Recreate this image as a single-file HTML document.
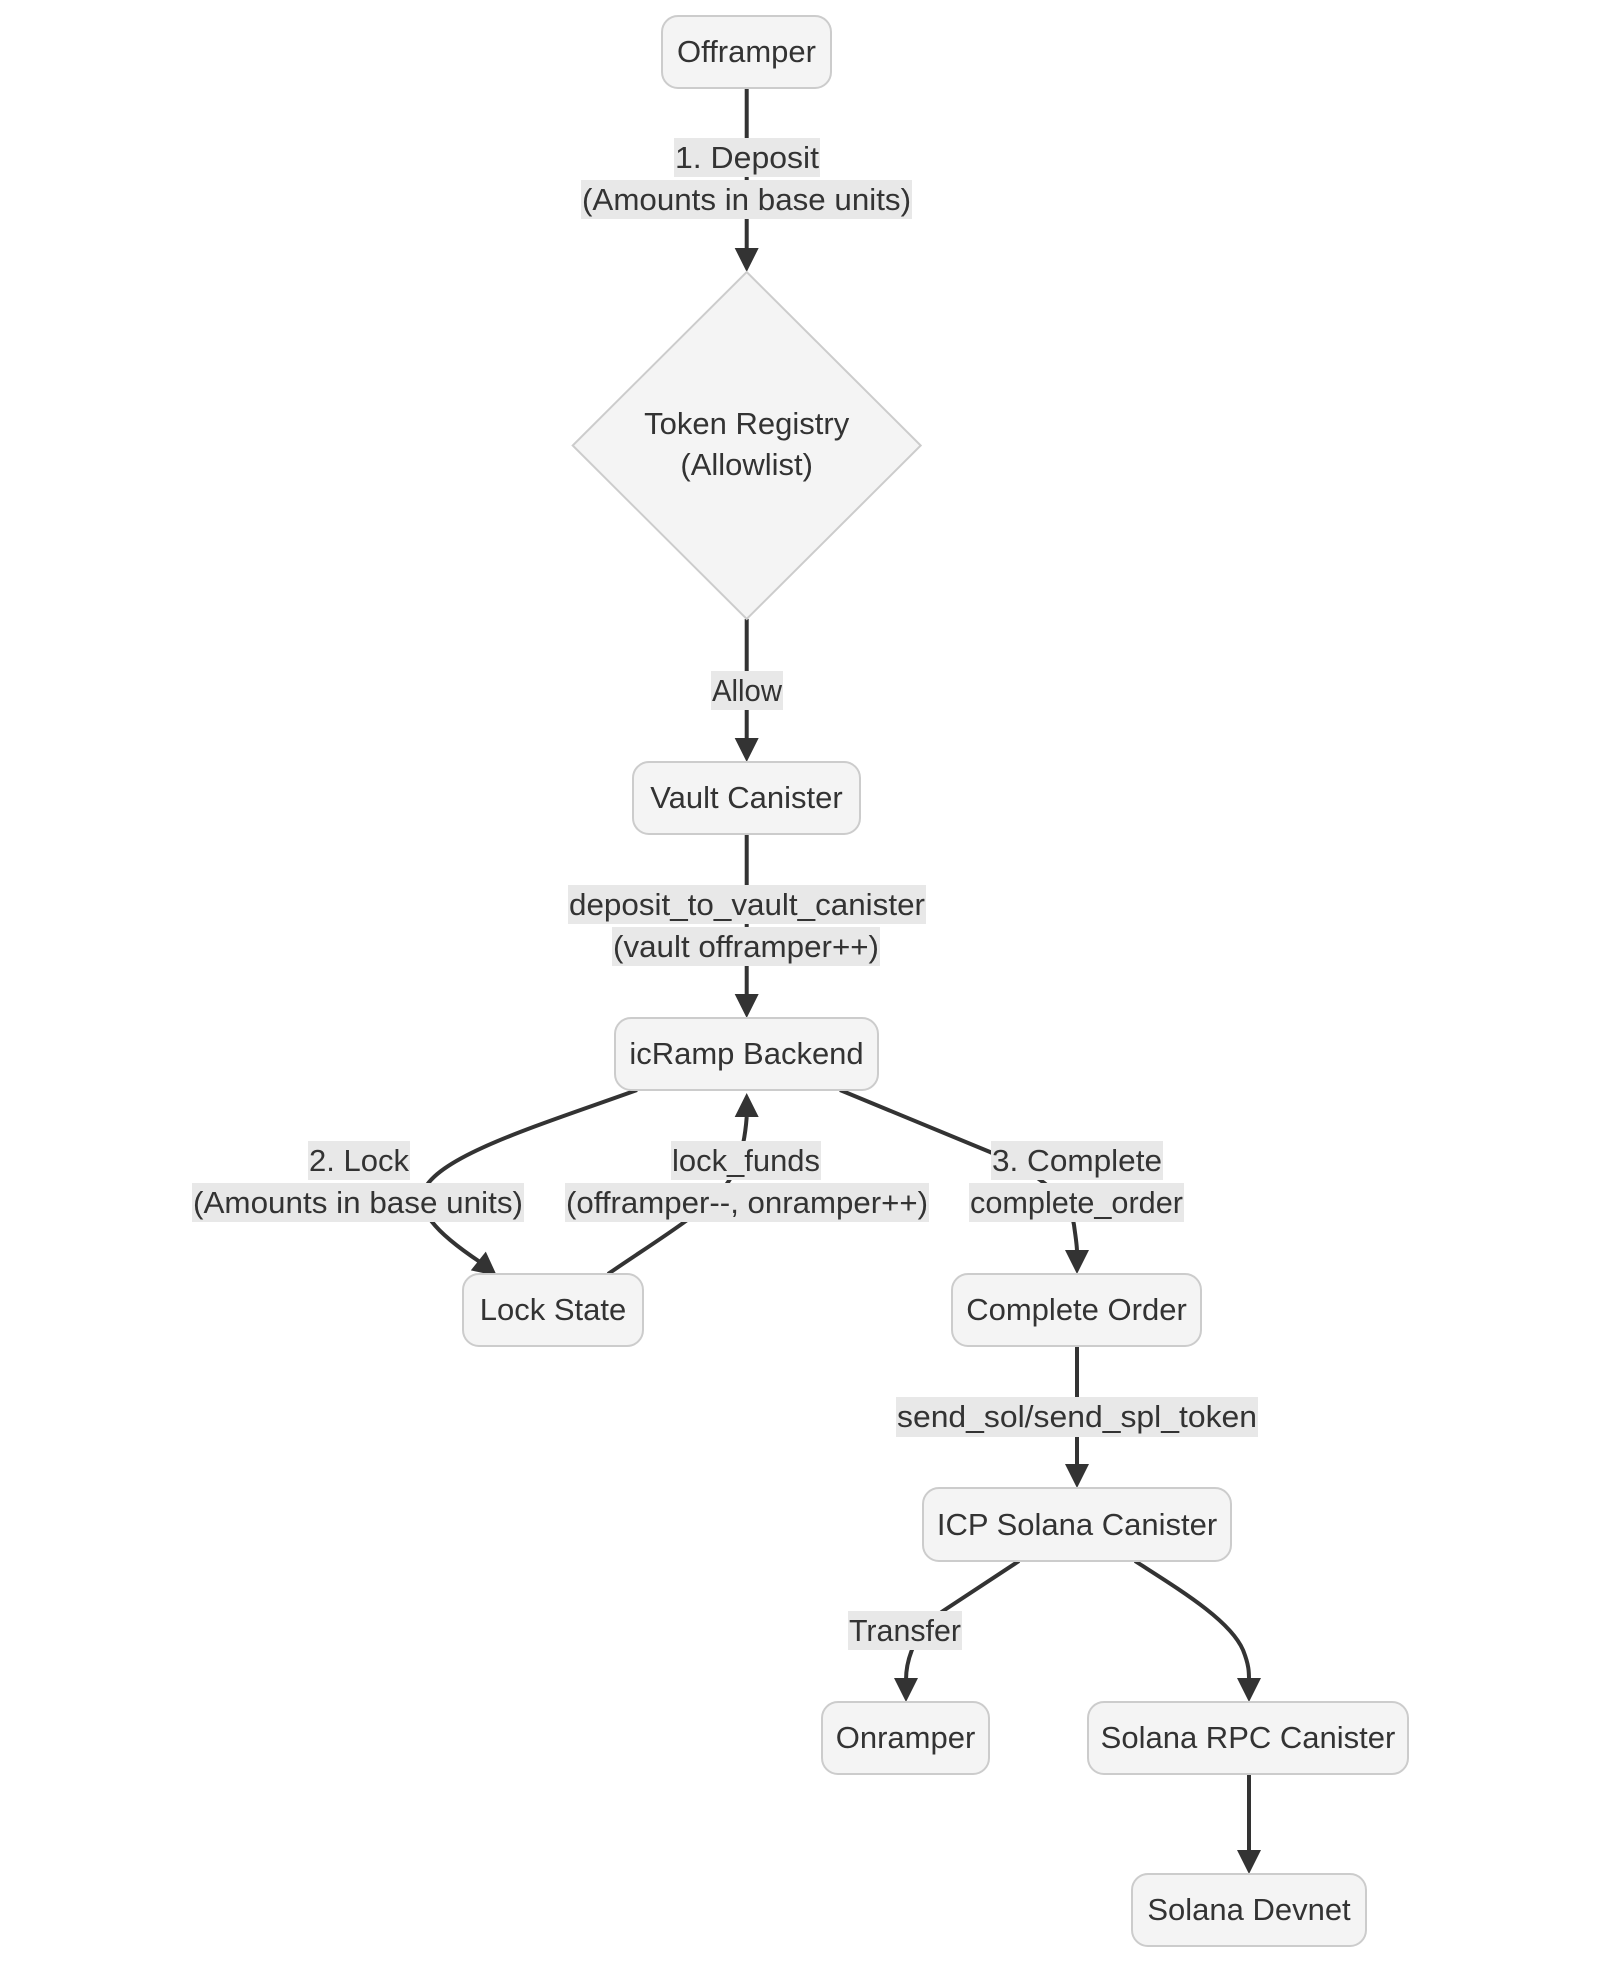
<!DOCTYPE html>
<html>
<head>
<meta charset="utf-8">
<style>
  html, body { margin:0; padding:0; background:#ffffff; }
  svg { display:block; }
  text { font-family: "Liberation Sans", Arial, sans-serif; fill:#333333; font-size:31px; }
</style>
</head>
<body>
<svg width="1600" height="1962" viewBox="0 0 1600 1962" xmlns="http://www.w3.org/2000/svg">
  <rect x="0" y="0" width="1600" height="1962" fill="#ffffff"/>

  <!-- Edges -->
  <g fill="none" stroke="#333333" stroke-width="4" stroke-linecap="butt">
    <!-- Offramper -> Token Registry -->
    <path d="M746.7,88 L746.7,250"/>
    <!-- Token Registry -> Vault -->
    <path d="M746.7,619 L746.7,740"/>
    <!-- Vault -> icRamp -->
    <path d="M746.7,834 L746.7,996"/>
    <!-- icRamp -> Lock State -->
    <path d="M637,1090 C540,1125 440,1155 424,1190 C418,1210 432,1230 480,1262"/>
    <!-- Lock State -> icRamp -->
    <path d="M608,1274 C650,1245 700,1215 722,1190 C740,1170 745,1140 746.7,1117"/>
    <!-- icRamp -> Complete Order -->
    <path d="M840,1090 L990,1152 C1030,1170 1070,1195 1074,1225 C1076,1240 1077,1245 1077,1252"/>
    <!-- Complete Order -> ICP -->
    <path d="M1077,1346 L1077,1466"/>
    <!-- ICP -> Onramper -->
    <path d="M1019,1561 L943,1611 C915,1630 906,1660 906,1680"/>
    <!-- ICP -> Solana RPC -->
    <path d="M1135,1561 C1180,1590 1230,1620 1243,1650 C1249,1665 1249,1672 1249,1680"/>
    <!-- Solana RPC -> Devnet -->
    <path d="M1249,1774 L1249,1852"/>
  </g>

  <!-- Arrowheads -->
  <g fill="#333333" stroke="none">
    <polygon points="734.7,248 758.7,248 746.7,272"/>
    <polygon points="734.7,738 758.7,738 746.7,762"/>
    <polygon points="734.7,994 758.7,994 746.7,1018"/>
    <polygon points="470.8,1270.4 485.8,1251.6 497,1276"/>
    <polygon points="734.7,1117 758.7,1117 746.7,1093"/>
    <polygon points="1065,1250 1089,1250 1077,1274"/>
    <polygon points="1065,1464 1089,1464 1077,1488"/>
    <polygon points="894,1678 918,1678 906,1702"/>
    <polygon points="1237,1678 1261,1678 1249,1702"/>
    <polygon points="1237,1850 1261,1850 1249,1874"/>
  </g>

  <!-- Nodes -->
  <g fill="#f4f4f4" stroke="#cccccc" stroke-width="2">
    <rect x="662" y="16" width="169" height="72" rx="16" ry="16"/>
    <polygon points="746.7,272 920.7,445.5 746.7,619 572.7,445.5"/>
    <rect x="633" y="762" width="227" height="72" rx="16" ry="16"/>
    <rect x="615" y="1018" width="263" height="72" rx="16" ry="16"/>
    <rect x="463" y="1274" width="180" height="72" rx="16" ry="16"/>
    <rect x="952" y="1274" width="249" height="72" rx="16" ry="16"/>
    <rect x="923" y="1488" width="308" height="73" rx="16" ry="16"/>
    <rect x="822" y="1702" width="167" height="72" rx="16" ry="16"/>
    <rect x="1088" y="1702" width="320" height="72" rx="16" ry="16"/>
    <rect x="1132" y="1874" width="234" height="72" rx="16" ry="16"/>
  </g>

  <!-- Node text -->
  <g text-anchor="middle">
    <text x="746.5" y="62">Offramper</text>
    <text x="746.7" y="434">Token Registry</text>
    <text x="746.7" y="475">(Allowlist)</text>
    <text x="746.5" y="808">Vault Canister</text>
    <text x="746.5" y="1064">icRamp Backend</text>
    <text x="553" y="1320">Lock State</text>
    <text x="1076.5" y="1320">Complete Order</text>
    <text x="1077" y="1535">ICP Solana Canister</text>
    <text x="905.5" y="1748">Onramper</text>
    <text x="1248" y="1748">Solana RPC Canister</text>
    <text x="1249" y="1920">Solana Devnet</text>
  </g>

  <!-- Edge label backgrounds -->
  <g fill="#e8e8e8" stroke="none">
    <rect x="674" y="138" width="146" height="39"/>
    <rect x="581" y="180" width="331" height="39"/>
    <rect x="711" y="671" width="72" height="39"/>
    <rect x="568" y="885" width="358" height="39"/>
    <rect x="612" y="927" width="268" height="39"/>
    <rect x="308" y="1141" width="102" height="39"/>
    <rect x="192" y="1183" width="332" height="39"/>
    <rect x="671" y="1141" width="150" height="39"/>
    <rect x="565" y="1183" width="364" height="39"/>
    <rect x="991" y="1141" width="172" height="39"/>
    <rect x="969" y="1183" width="215" height="39"/>
    <rect x="896" y="1397" width="362" height="40"/>
    <rect x="848" y="1611" width="114" height="39"/>
  </g>

  <!-- Edge label text -->
  <g text-anchor="middle" lengthAdjust="spacingAndGlyphs">
    <text x="747" y="168" textLength="144" lengthAdjust="spacingAndGlyphs">1. Deposit</text>
    <text x="746.5" y="210" textLength="329" lengthAdjust="spacingAndGlyphs">(Amounts in base units)</text>
    <text x="747" y="701" textLength="70" lengthAdjust="spacingAndGlyphs">Allow</text>
    <text x="747" y="915" textLength="356" lengthAdjust="spacingAndGlyphs">deposit_to_vault_canister</text>
    <text x="746" y="957" textLength="266" lengthAdjust="spacingAndGlyphs">(vault offramper++)</text>
    <text x="359" y="1171" textLength="100" lengthAdjust="spacingAndGlyphs">2. Lock</text>
    <text x="358" y="1213" textLength="330" lengthAdjust="spacingAndGlyphs">(Amounts in base units)</text>
    <text x="746" y="1171" textLength="148" lengthAdjust="spacingAndGlyphs">lock_funds</text>
    <text x="747" y="1213" textLength="362" lengthAdjust="spacingAndGlyphs">(offramper--, onramper++)</text>
    <text x="1077" y="1171" textLength="170" lengthAdjust="spacingAndGlyphs">3. Complete</text>
    <text x="1076.5" y="1213" textLength="213" lengthAdjust="spacingAndGlyphs">complete_order</text>
    <text x="1077" y="1427" textLength="360" lengthAdjust="spacingAndGlyphs">send_sol/send_spl_token</text>
    <text x="905" y="1641" textLength="112" lengthAdjust="spacingAndGlyphs">Transfer</text>
  </g>
</svg>
</body>
</html>
